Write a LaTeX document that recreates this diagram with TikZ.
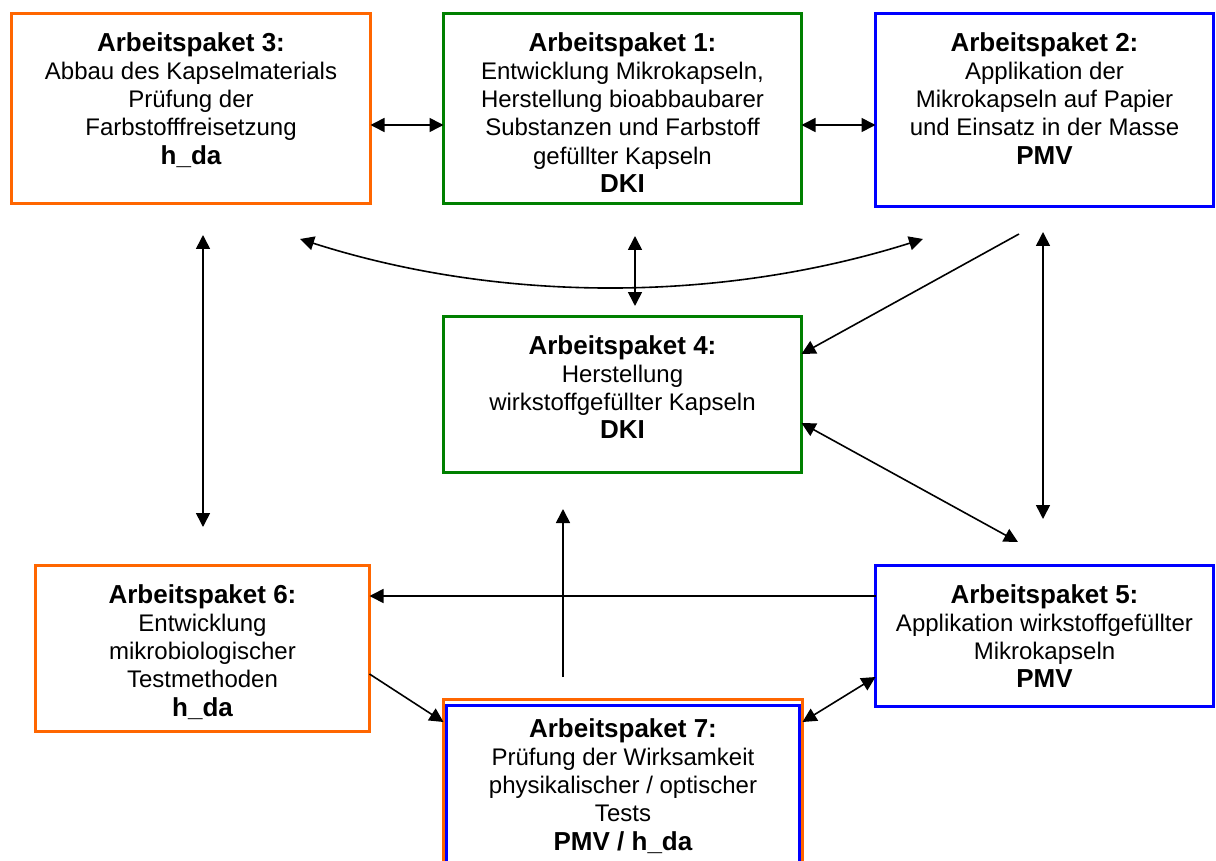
\documentclass[tikz,border=0pt]{standalone}
\usepackage{fontspec}
\setmainfont{Liberation Sans}
\usetikzlibrary{arrows.meta}
\definecolor{orng}{HTML}{FF6600}
\definecolor{grn}{HTML}{008000}
\definecolor{blu}{HTML}{0000FF}
\begin{document}
\begin{tikzpicture}[x=1pt,y=-1pt,
  box/.style={draw=#1, line width=3pt, inner sep=0pt, outer sep=0pt, fill=white},
  txt/.style={anchor=north, align=center, inner sep=0pt, font=\fontsize{24}{28.3}\selectfont},
  sgl/.style={line width=1.6pt, -{Triangle[length=14pt,width=14pt]}},
  dbl/.style={line width=1.6pt, {Triangle[length=14pt,width=14pt]}-{Triangle[length=14pt,width=14pt]}}
]
\newcommand{\ttl}[1]{{\fontsize{26}{28.3}\selectfont\bfseries #1}}
\useasboundingbox (0,0) rectangle (1216,861);
% boxes
\node[box=orng, minimum width=359pt, minimum height=190pt] (b3) at (191,108.5) {};
\node[box=grn,  minimum width=358pt, minimum height=190pt] (b1) at (622.5,108.5) {};
\node[box=blu,  minimum width=338pt, minimum height=193pt] (b2) at (1044.5,110) {};
\node[box=grn,  minimum width=358pt, minimum height=156pt] (b4) at (622.5,394.5) {};
\node[box=orng, minimum width=334pt, minimum height=166pt] (b6) at (202.5,648.5) {};
\node[box=blu,  minimum width=338pt, minimum height=141pt] (b5) at (1044.5,636) {};
\node[box=orng, minimum width=359pt, minimum height=180pt] (b7) at (623,789.5) {};
\node[box=blu,  minimum width=353pt, minimum height=174pt] (b7in) at (623,792.5) {};
% texts
\node[txt] (t3) at ([yshift=-18.5pt]b3.north) {\ttl{Arbeitspaket 3:}\\Abbau des Kapselmaterials\\Prüfung der\\Farbstofffreisetzung\\\ttl{h\_da}};
\node[txt] (t1) at ([yshift=-18.5pt]b1.north) {\ttl{Arbeitspaket 1:}\\Entwicklung Mikrokapseln,\\Herstellung bioabbaubarer\\Substanzen und Farbstoff\\gefüllter Kapseln\\\ttl{DKI}};
\node[txt] (t2) at ([yshift=-18.5pt]b2.north) {\ttl{Arbeitspaket 2:}\\Applikation der\\Mikrokapseln auf Papier\\und Einsatz in der Masse\\\ttl{PMV}};
\node[txt] (t4) at ([yshift=-18.5pt]b4.north) {\ttl{Arbeitspaket 4:}\\Herstellung\\wirkstoffgefüllter Kapseln\\\ttl{DKI}};
\node[txt] (t6) at ([yshift=-18.5pt]b6.north) {\ttl{Arbeitspaket 6:}\\Entwicklung\\mikrobiologischer\\Testmethoden\\\ttl{h\_da}};
\node[txt] (t5) at ([yshift=-18.5pt]b5.north) {\ttl{Arbeitspaket 5:}\\Applikation wirkstoffgefüllter\\Mikrokapseln\\\ttl{PMV}};
\node[txt] (t7) at ([yshift=-18.5pt]b7.north) {\ttl{Arbeitspaket 7:}\\Prüfung der Wirksamkeit\\physikalischer / optischer\\Tests\\\ttl{PMV / h\_da}};
% helper coordinates
\coordinate (r1) at (0,125);
\coordinate (c1) at (300,239);
\coordinate (c2) at (923,239);
\coordinate (v1a) at (635,236);
\coordinate (v1b) at (635,306);
\coordinate (d1) at (1019,234);
\coordinate (rd) at (0,354);
\coordinate (v2a) at (1043,232);
\coordinate (v2b) at (1043,519);
\coordinate (v3a) at (203,235);
\coordinate (v3b) at (203,527);
\coordinate (r45) at (0,423);
\coordinate (e1) at (1018,542);
\coordinate (r56) at (0,596);
\coordinate (u1) at (563,677);
\coordinate (u2) at (563,509);
\coordinate (r6a) at (0,674);
\coordinate (r7a) at (0,722);
\coordinate (r5a) at (0,677);
% connectors
\draw[dbl] (b3.east |- r1) -- (b1.west |- r1);
\draw[dbl] (b1.east |- r1) -- (b2.west |- r1);
\draw[dbl] (c1) .. controls (500,303) and (720,303) .. (c2);
\draw[dbl] (v1a) -- (v1b);
\draw[sgl] (d1) -- (b4.east |- rd);
\draw[dbl] (v2a) -- (v2b);
\draw[dbl] (v3a) -- (v3b);
\draw[dbl] (b4.east |- r45) -- (e1);
\draw[sgl] (b5.west |- r56) -- (b6.east |- r56);
\draw[sgl] (u1) -- (u2);
\draw[sgl] (b6.east |- r6a) -- (b7.west |- r7a);
\draw[dbl] (b7.east |- r7a) -- (b5.west |- r5a);
\end{tikzpicture}
\end{document}
